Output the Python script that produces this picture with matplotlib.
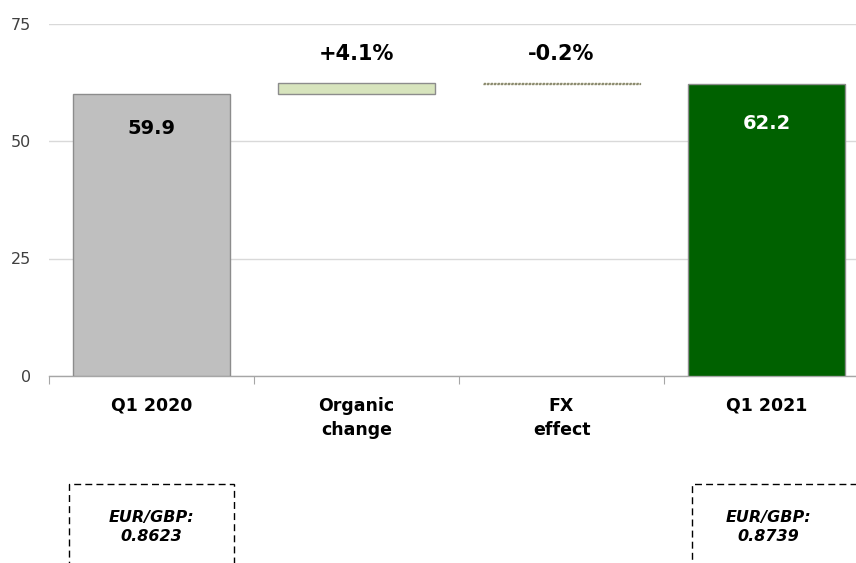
import matplotlib.pyplot as plt
from matplotlib.patches import Rectangle

categories = ['Q1 2020', 'Organic\nchange', 'FX\neffect', 'Q1 2021']
start_value = 59.9
end_value = 62.2
organic_pct = 4.1
fx_pct = -0.2
step_labels = ['+4.1%', '-0.2%']
fx_rates = ['EUR/GBP:\n0.8623', 'EUR/GBP:\n0.8739']

plt.rcParams['font.family'] = ['DejaVu Sans']

fig = plt.figure(figsize=(8.56, 5.63), dpi=100)
ax = fig.add_axes([49 / 856, 1 - 376 / 563, 820 / 856, (376 - 23.5) / 563])

organic_top = start_value * (1 + organic_pct / 100)
fx_bottom = organic_top * (1 + fx_pct / 100)
w = 0.766

ax.bar(0, start_value, width=w, color='#bfbfbf', edgecolor='#8c8c8c', linewidth=1, zorder=3)
ax.bar(1, organic_top - start_value, bottom=start_value, width=w,
       color='#d7e4bd', edgecolor='#8c8c8c', linewidth=1, zorder=3)
ax.bar(2, organic_top - fx_bottom, bottom=fx_bottom, width=w,
       color='#c4bd97', edgecolor='#8a8a70', linewidth=1, linestyle=(0, (1.5, 1)), zorder=3)
ax.bar(3, end_value, width=w, color='#006100', edgecolor='#8c8c8c', linewidth=1, zorder=3)

ax.text(0, 52.7, f'{start_value:.1f}', ha='center', va='center', fontsize=14,
        fontweight='bold', color='black', zorder=4)
ax.text(3, 53.8, f'{end_value:.1f}', ha='center', va='center', fontsize=14,
        fontweight='bold', color='white', zorder=4)
ax.text(1, 68.5, step_labels[0], ha='center', va='center', fontsize=15,
        fontweight='bold', color='black')
ax.text(2, 68.5, step_labels[1], ha='center', va='center', fontsize=15,
        fontweight='bold', color='black')

ax.set_xlim(-0.5, 3.5)
ax.set_ylim(0, 75)
ax.set_yticks([0, 25, 50, 75])
ax.yaxis.grid(True, color='#d9d9d9', linewidth=1)
ax.set_axisbelow(True)
ax.set_xticks([-0.5, 0.5, 1.5, 2.5])
ax.set_xticks([0, 1, 2, 3], minor=True)
ax.set_xticklabels([])
ax.set_xticklabels(categories, minor=True, fontsize=12.5, fontweight='bold', color='black')
ax.tick_params(axis='x', which='major', length=6, color='#a6a6a6', direction='out')
ax.tick_params(axis='x', which='minor', length=0, pad=15)
ax.tick_params(axis='y', length=0, labelsize=11.5, labelcolor='#404040', pad=13)
for lbl in ax.get_xticklabels(minor=True):
    lbl.set_verticalalignment('top')
    lbl.set_linespacing(1.45)

for s in ['left', 'right', 'top']:
    ax.spines[s].set_visible(False)
ax.spines['bottom'].set_color('#a6a6a6')
ax.spines['bottom'].set_linewidth(1)

# dashed boxes with exchange rates, open at the bottom of the figure
boxes = [(69, 234), (692, 900)]
for (x0, x1), txt in zip(boxes, fx_rates):
    fig.add_artist(Rectangle((x0 / 856, -0.1), (x1 - x0) / 856, 0.1 + (563 - 484) / 563,
                             transform=fig.transFigure, fill=False, edgecolor='black',
                             linewidth=1, linestyle=(0, (5, 3)), clip_on=False))
fig.text(151 / 856, 1 - 527 / 563, fx_rates[0], ha='center', va='center', fontsize=11.5,
         fontweight='bold', fontstyle='italic', linespacing=1.35)
fig.text(768 / 856, 1 - 527 / 563, fx_rates[1], ha='center', va='center', fontsize=11.5,
         fontweight='bold', fontstyle='italic', linespacing=1.35)

fig.savefig('out.png', dpi=100)
